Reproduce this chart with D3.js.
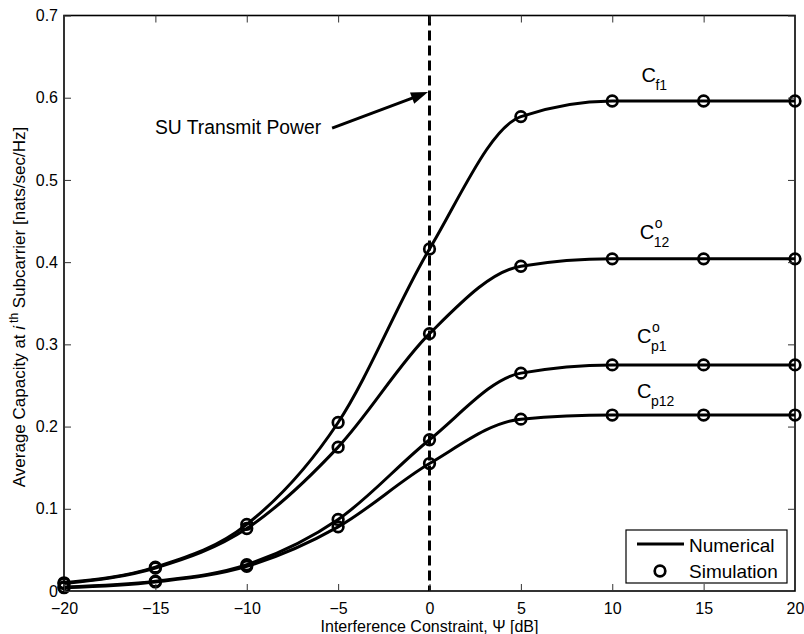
<!DOCTYPE html>
<html>
<head>
<meta charset="utf-8">
<script src="https://cdn.jsdelivr.net/npm/d3@7"></script>
<style>
  html, body { margin: 0; padding: 0; background: #fff; }
  svg { display: block; font-family: "Liberation Sans", Arial, Helvetica, sans-serif; }
</style>
</head>
<body>
<svg id="chart" width="804" height="634"></svg>
<script>
// ---- data ----
const psi = [-20, -15, -10, -5, 0, 5, 10, 15, 20];
const cf1  = [0.010, 0.029, 0.081, 0.205, 0.416, 0.577, 0.596, 0.596, 0.596];
const c12o = [0.009, 0.028, 0.076, 0.175, 0.313, 0.395, 0.404, 0.404, 0.404];
const cp1o = [0.005, 0.012, 0.032, 0.087, 0.184, 0.265, 0.275, 0.275, 0.275];
const cp12 = [0.004, 0.011, 0.030, 0.078, 0.155, 0.209, 0.214, 0.214, 0.214];
const xTicks = [-20, -15, -10, -5, 0, 5, 10, 15, 20];
const yTicks = [0, 0.1, 0.2, 0.3, 0.4, 0.5, 0.6, 0.7];
const legendLabels = ["Numerical", "Simulation"];
const annotationText = "SU Transmit Power";
const powerLine = 0;

const series = [
  { values: cf1,  base: "C", sub: "f1",  sup: null },
  { values: c12o, base: "C", sub: "12",  sup: "o" },
  { values: cp1o, base: "C", sub: "p1",  sup: "o" },
  { values: cp12, base: "C", sub: "p12", sup: null }
];

// ---- layout ----
const svg = d3.select("#chart");
const L = 64, R = 795, T = 15.5, B = 591;
const x = d3.scaleLinear().domain([-20, 20]).range([L, R]);
const y = d3.scaleLinear().domain([0, 0.7]).range([B, T]);

// curves
const line = d3.line().x(d => x(d[0])).y(d => y(d[1])).curve(d3.curveMonotoneX);
const g = svg.append("g");
series.forEach(s => {
  const pts = psi.map((p, i) => [p, s.values[i]]);
  g.append("path").attr("d", line(pts)).attr("fill", "none")
    .attr("stroke", "#000").attr("stroke-width", 3).attr("stroke-linejoin", "round");
  g.selectAll(null).data(pts).enter().append("circle")
    .attr("cx", d => x(d[0])).attr("cy", d => y(d[1])).attr("r", 5.3)
    .attr("fill", "none").attr("stroke", "#000").attr("stroke-width", 2.7);
});

// dashed vertical line
svg.append("line").attr("x1", x(powerLine)).attr("x2", x(powerLine))
  .attr("y1", T).attr("y2", B).attr("stroke", "#000").attr("stroke-width", 3)
  .attr("stroke-dasharray", "10,5");

// axes box
svg.append("rect").attr("x", L).attr("y", T).attr("width", R - L).attr("height", B - T)
  .attr("fill", "none").attr("stroke", "#000").attr("stroke-width", 1.6);

// ticks (inward, on all four sides)
const tl = 7;
const xAxisB = d3.axisBottom(x).tickValues(xTicks).tickSizeInner(-tl).tickSizeOuter(0)
  .tickPadding(12).tickFormat(d => d < 0 ? "\u2212" + Math.abs(d) : String(d));
const xAxisT = d3.axisTop(x).tickValues(xTicks).tickSizeInner(-tl).tickSizeOuter(0).tickFormat("");
const yAxisL = d3.axisLeft(y).tickValues(yTicks).tickSizeInner(-tl).tickSizeOuter(0)
  .tickPadding(6).tickFormat(d => d === 0 ? "0" : d3.format(".1f")(d));
const yAxisR = d3.axisRight(y).tickValues(yTicks).tickSizeInner(-tl).tickSizeOuter(0).tickFormat("");

function styleAxis(sel) {
  sel.select(".domain").remove();
  sel.selectAll(".tick line").attr("stroke", "#333").attr("stroke-width", 1);
  sel.selectAll(".tick text").attr("fill", "#000").style("font-size", "16px")
    .style("font-family", '"Liberation Sans", Arial, sans-serif');
}
svg.append("g").attr("transform", `translate(0,${B})`).call(xAxisB).call(styleAxis);
svg.append("g").attr("transform", `translate(0,${T})`).call(xAxisT).call(styleAxis);
svg.append("g").attr("transform", `translate(${L},0)`).call(yAxisL).call(styleAxis);
svg.append("g").attr("transform", `translate(${R},0)`).call(yAxisR).call(styleAxis);

// axis labels
svg.append("text").attr("x", (L + R) / 2).attr("y", 632).attr("text-anchor", "middle")
  .style("font-size", "16px").text("Interference Constraint, \u03A8 [dB]");

const yl = svg.append("text").attr("transform", "translate(25,307) rotate(-90)")
  .attr("text-anchor", "middle").style("font-size", "17px");
yl.append("tspan").text("Average Capacity at  ");
yl.append("tspan").style("font-style", "italic").text("i");
yl.append("tspan").attr("dx", 3).attr("dy", -7).style("font-size", "12px").text("th");
yl.append("tspan").attr("dy", 7).text(" Subcarrier [nats/sec/Hz]");

// curve labels
const labelX = [11.6, 11.5, 11.35, 11.35];
const labelDy = [-19, -20, -22, -17];
series.forEach((s, i) => {
  const plateau = s.values[s.values.length - 1];
  const bx = x(labelX[i]);
  const by = y(plateau) + labelDy[i];
  svg.append("text").attr("x", bx).attr("y", by).style("font-size", "20px").text(s.base);
  svg.append("text").attr("x", bx + 14).attr("y", by + 8).style("font-size", "14px").text(s.sub);
  if (s.sup) svg.append("text").attr("x", bx + 15).attr("y", by - 11).style("font-size", "14px").text(s.sup);
});

// annotation
const tip = [x(powerLine) - 1.5, y(0.6068)];
const tail = [x(-5.33), y(0.563)];
const ang = Math.atan2(tip[1] - tail[1], tip[0] - tail[0]);
const hl = 17, hw = 6;
const base = [tip[0] - hl * Math.cos(ang), tip[1] - hl * Math.sin(ang)];
svg.append("line").attr("x1", tail[0]).attr("y1", tail[1])
  .attr("x2", base[0] + 3 * Math.cos(ang)).attr("y2", base[1] + 3 * Math.sin(ang))
  .attr("stroke", "#000").attr("stroke-width", 3);
svg.append("polygon").attr("points", [
  tip,
  [base[0] + hw * Math.sin(ang), base[1] - hw * Math.cos(ang)],
  [base[0] - hw * Math.sin(ang), base[1] + hw * Math.cos(ang)]
].map(p => p.join(",")).join(" ")).attr("fill", "#000");
svg.append("text").attr("x", 155).attr("y", 134).style("font-size", "19.3px").text(annotationText);

// legend
const lg = svg.append("g");
lg.append("rect").attr("x", 626).attr("y", 530).attr("width", 161).attr("height", 53)
  .attr("fill", "#fff").attr("stroke", "#000").attr("stroke-width", 1.2);
lg.append("line").attr("x1", 637).attr("x2", 684).attr("y1", 544).attr("y2", 544)
  .attr("stroke", "#000").attr("stroke-width", 3);
lg.append("circle").attr("cx", 660).attr("cy", 571).attr("r", 5.3)
  .attr("fill", "none").attr("stroke", "#000").attr("stroke-width", 2.7);
lg.append("text").attr("x", 689).attr("y", 551.5).style("font-size", "19px").text(legendLabels[0]);
lg.append("text").attr("x", 689).attr("y", 577.5).style("font-size", "19px").text(legendLabels[1]);
</script>
</body>
</html>
